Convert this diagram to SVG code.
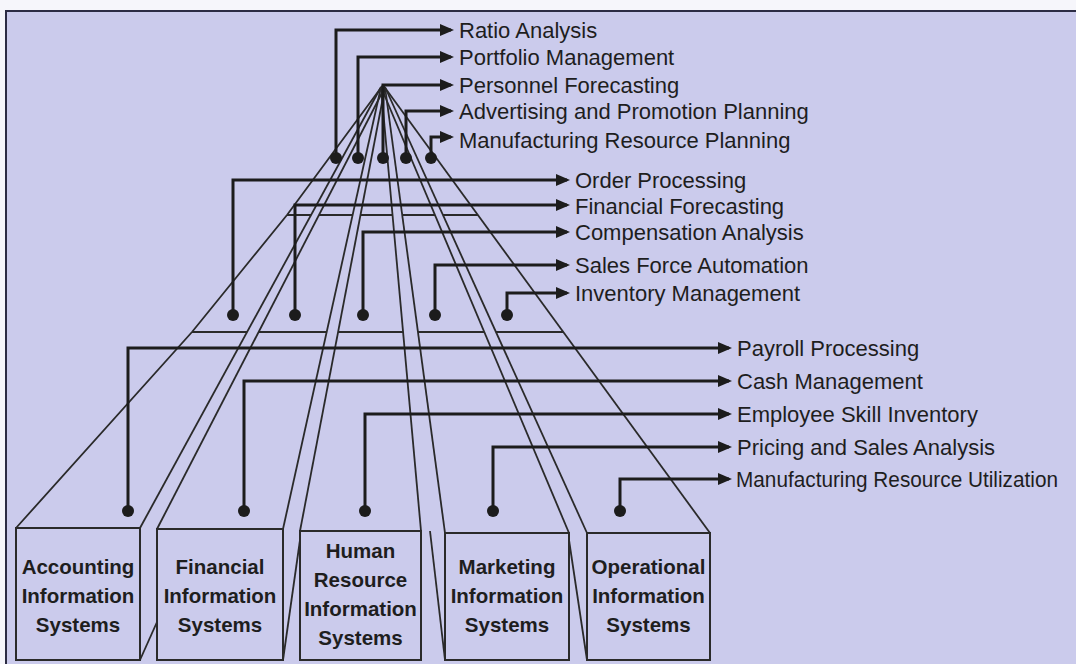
<svg xmlns="http://www.w3.org/2000/svg" width="1076" height="664" viewBox="0 0 1076 664">
  <defs>
    <style>
      .bg { fill: #CBCBEC; }
      .edge { stroke: #2a2a2a; stroke-width: 1.8; fill: none; }
      .slab { stroke: #2a2a2a; stroke-width: 2; fill: none; }
      .gap { fill: #CBCBEC; stroke: none; }
      .box rect { fill: #CBCBEC; stroke: #2a2a2a; stroke-width: 2; }
      .box text { font-family: "Liberation Sans", Arial, sans-serif; font-weight: bold; font-size: 20.5px; fill: #1e1e1e; text-anchor: middle; }
      .conn { stroke: #1c1c1c; stroke-width: 3; fill: none; marker-end: url(#arrow); }
      .dot { fill: #1c1c1c; }
      .lbl { font-family: "Liberation Sans", Arial, sans-serif; font-size: 22px; fill: #1e1e1e; }
    </style>
    <marker id="arrow" viewBox="0 0 14 12" refX="11" refY="6" markerWidth="14" markerHeight="12" markerUnits="userSpaceOnUse" orient="auto">
      <path d="M0,0 L14,6 L0,12 z" fill="#1c1c1c"/>
    </marker>
  </defs>

  <!-- page and frame -->
  <rect x="0" y="0" width="1076" height="664" fill="#F6F6FB"/>
  <rect class="bg" x="6" y="11" width="1070" height="653"/>
  <path d="M6,664 V11 H1076" stroke="#2c2c44" stroke-width="2" fill="none"/>

  <!-- pyramid outline -->
  <g id="pyramid">
    <!-- middle slab edges -->
    <line class="slab" x1="287" y1="215" x2="478" y2="215"/>
    <line class="slab" x1="192" y1="332" x2="563" y2="332"/>
    <!-- gaps between wedges (clear the slab lines) -->
    <polygon class="gap" points="381,87 140,528 157,529 385,87"/>
    <polygon class="gap" points="381,87 283,529 300,531 385,87"/>
    <polygon class="gap" points="381,87 421,531 445,533 385,87"/>
    <polygon class="gap" points="381,87 569,533 587,533 385,87"/>
    <!-- outer edges -->
    <polyline class="edge" points="383,85 287,215 192,332 16,528"/>
    <line class="edge" x1="383" y1="85" x2="710" y2="533"/>
    <!-- wedge gap lines -->
    <line class="edge" x1="381" y1="87" x2="140" y2="528"/>
    <line class="edge" x1="385" y1="87" x2="157" y2="529"/>
    <line class="edge" x1="381" y1="87" x2="283" y2="529"/>
    <line class="edge" x1="385" y1="87" x2="300" y2="531"/>
    <line class="edge" x1="381" y1="87" x2="421" y2="531"/>
    <line class="edge" x1="385" y1="87" x2="445" y2="533"/>
    <line class="edge" x1="381" y1="87" x2="569" y2="533"/>
    <line class="edge" x1="385" y1="87" x2="587" y2="533"/>
    <!-- visible side faces of the base blocks -->
    <line class="edge" x1="140" y1="660" x2="157" y2="622"/>
    <line class="edge" x1="283" y1="660" x2="300" y2="540"/>
    <line class="edge" x1="445" y1="660" x2="430" y2="531"/>
    <line class="edge" x1="587" y1="660" x2="569" y2="540"/>
  </g>

  <!-- base blocks -->
  <g id="accounting" class="box">
    <rect x="16" y="528" width="124" height="132"/>
    <text x="78" y="574">Accounting</text>
    <text x="78" y="603">Information</text>
    <text x="78" y="632">Systems</text>
  </g>
  <g id="financial" class="box">
    <rect x="157" y="529" width="126" height="131"/>
    <text x="220" y="574">Financial</text>
    <text x="220" y="603">Information</text>
    <text x="220" y="632">Systems</text>
  </g>
  <g id="human-resource" class="box">
    <rect x="300" y="531" width="121" height="129"/>
    <text x="360.5" y="558">Human</text>
    <text x="360.5" y="587">Resource</text>
    <text x="360.5" y="616">Information</text>
    <text x="360.5" y="645">Systems</text>
  </g>
  <g id="marketing" class="box">
    <rect x="445" y="533" width="124" height="127"/>
    <text x="507" y="574">Marketing</text>
    <text x="507" y="603">Information</text>
    <text x="507" y="632">Systems</text>
  </g>
  <g id="operational" class="box">
    <rect x="587" y="533" width="123" height="127"/>
    <text x="648.5" y="574">Operational</text>
    <text x="648.5" y="603">Information</text>
    <text x="648.5" y="632">Systems</text>
  </g>

  <!-- connectors from each level to its applications -->
  <g id="connectors">
    <path class="conn" d="M336,158 V30 H451"/>
    <path class="conn" d="M358,158 V57 H451"/>
    <path class="conn" d="M383,158 V85 H451"/>
    <path class="conn" d="M406,158 V111 H451"/>
    <path class="conn" d="M431,158 V137 H451"/>

    <path class="conn" d="M233,315 V180 H567"/>
    <path class="conn" d="M295,315 V205 H567"/>
    <path class="conn" d="M363,315 V232 H567"/>
    <path class="conn" d="M435,315 V265 H567"/>
    <path class="conn" d="M507,315 V293 H567"/>

    <path class="conn" d="M128,511 V348 H729"/>
    <path class="conn" d="M244,511 V381 H729"/>
    <path class="conn" d="M365,511 V414 H729"/>
    <path class="conn" d="M493,511 V447 H729"/>
    <path class="conn" d="M620,511 V479 H729"/>

    <circle class="dot" cx="336" cy="158" r="6"/>
    <circle class="dot" cx="358" cy="158" r="6"/>
    <circle class="dot" cx="383" cy="158" r="6"/>
    <circle class="dot" cx="406" cy="158" r="6"/>
    <circle class="dot" cx="431" cy="158" r="6"/>

    <circle class="dot" cx="233" cy="315" r="6"/>
    <circle class="dot" cx="295" cy="315" r="6"/>
    <circle class="dot" cx="363" cy="315" r="6"/>
    <circle class="dot" cx="435" cy="315" r="6"/>
    <circle class="dot" cx="507" cy="315" r="6"/>

    <circle class="dot" cx="128" cy="511" r="6"/>
    <circle class="dot" cx="244" cy="511" r="6"/>
    <circle class="dot" cx="365" cy="511" r="6"/>
    <circle class="dot" cx="493" cy="511" r="6"/>
    <circle class="dot" cx="620" cy="511" r="6"/>
  </g>

  <!-- application labels -->
  <g id="ratio-analysis"><text class="lbl" x="459" y="38">Ratio Analysis</text></g>
  <g id="portfolio-management"><text class="lbl" x="459" y="65">Portfolio Management</text></g>
  <g id="personnel-forecasting"><text class="lbl" x="459" y="93">Personnel Forecasting</text></g>
  <g id="advertising-planning"><text class="lbl" x="459" y="119">Advertising and Promotion Planning</text></g>
  <g id="manufacturing-planning"><text class="lbl" x="459" y="148">Manufacturing Resource Planning</text></g>

  <g id="order-processing"><text class="lbl" x="575" y="188">Order Processing</text></g>
  <g id="financial-forecasting"><text class="lbl" x="575" y="214">Financial Forecasting</text></g>
  <g id="compensation-analysis"><text class="lbl" x="575" y="240">Compensation Analysis</text></g>
  <g id="sales-force-automation"><text class="lbl" x="575" y="273">Sales Force Automation</text></g>
  <g id="inventory-management"><text class="lbl" x="575" y="301">Inventory Management</text></g>

  <g id="payroll-processing"><text class="lbl" x="737" y="356">Payroll Processing</text></g>
  <g id="cash-management"><text class="lbl" x="737" y="389">Cash Management</text></g>
  <g id="employee-skill-inventory"><text class="lbl" x="737" y="422">Employee Skill Inventory</text></g>
  <g id="pricing-sales-analysis"><text class="lbl" x="737" y="455">Pricing and Sales Analysis</text></g>
  <g id="manufacturing-utilization"><text class="lbl" x="736" y="487" textLength="322" lengthAdjust="spacingAndGlyphs">Manufacturing Resource Utilization</text></g>
</svg>
